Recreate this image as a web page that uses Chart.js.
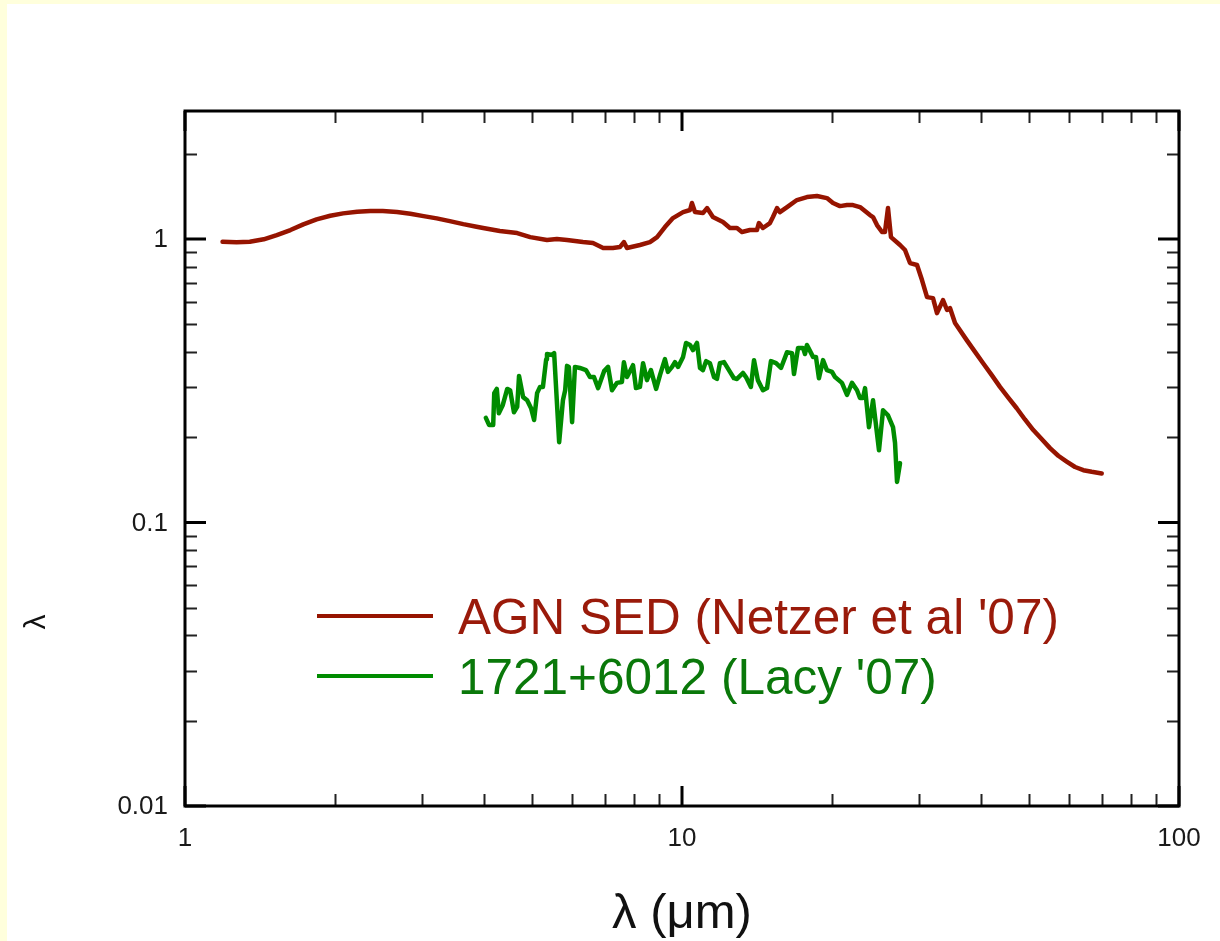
<!DOCTYPE html>
<html>
<head>
<meta charset="utf-8">
<script src="https://cdn.jsdelivr.net/npm/chart.js@4.4.1/dist/chart.umd.min.js"></script>
<style>
  html, body { margin: 0; padding: 0; background: #ffffdc; }
  #sed { display: block; }
</style>
</head>
<body>
<canvas id="sed" width="1220" height="941"></canvas>
<script>
// AGN SED template (Netzer et al '07) - wavelength in micron, lambda*F_lambda normalised
const agnWavelength = [1.19, 1.27, 1.35, 1.44, 1.53, 1.63, 1.73, 1.84, 1.96, 2.08, 2.22, 2.36, 2.50, 2.67, 2.84,
  3.02, 3.21, 3.41, 3.63, 3.86, 3.98, 4.30, 4.66, 4.95,
  5.35, 5.60, 5.87, 6.32, 6.62, 6.94, 7.26, 7.50, 7.64, 7.75, 8.23, 8.62, 8.91, 9.24, 9.59,
  10.05, 10.38, 10.47, 10.62, 11.02, 11.23, 11.54, 12.09, 12.49, 12.90, 13.20, 13.70, 14.15, 14.28, 14.55,
  15.03, 15.24, 15.53, 15.74, 16.27, 17.03, 17.84, 18.69, 19.57, 20.13, 20.79, 21.48, 22.08, 22.81,
  23.89, 24.23, 24.68, 25.26, 25.61, 25.97, 26.33, 27.46, 28.10, 28.76, 29.71, 30.40, 31.12, 31.99,
  32.59, 33.51, 34.14, 34.61, 35.43, 37.40, 38.87, 40.39, 42.00, 43.63, 45.34, 47.15, 48.98, 50.91,
  52.92, 55.01, 57.16, 59.43, 61.78, 64.20, 66.73, 69.91];
const agnFlux = [0.978, 0.974, 0.978, 0.998, 1.033, 1.076, 1.127, 1.174, 1.208, 1.232, 1.248, 1.255, 1.255, 1.245, 1.228,
  1.205, 1.183, 1.157, 1.129, 1.105, 1.094, 1.067, 1.050, 1.016,
  0.992, 1.000, 0.992, 0.976, 0.968, 0.930, 0.930, 0.937, 0.976, 0.930, 0.953, 0.976, 1.016, 1.102, 1.186,
  1.245, 1.266, 1.340, 1.245, 1.235, 1.286, 1.196, 1.148, 1.094, 1.094, 1.059, 1.076, 1.076, 1.139, 1.094,
  1.139, 1.196, 1.286, 1.245, 1.297, 1.373, 1.407, 1.418, 1.395, 1.340, 1.307, 1.318, 1.318, 1.297,
  1.215, 1.196, 1.120, 1.059, 1.059, 1.286, 1.016, 0.953, 0.915, 0.823, 0.810, 0.717, 0.624, 0.619,
  0.548, 0.609, 0.562, 0.571, 0.506, 0.440, 0.400, 0.364, 0.331, 0.301, 0.276, 0.253, 0.231, 0.212,
  0.197, 0.183, 0.172, 0.164, 0.157, 0.153, 0.151, 0.149];

// 1721+6012 spectrum (Lacy '07)
const lacyWavelength = [4.03, 4.09, 4.17, 4.19, 4.24, 4.28, 4.36, 4.45, 4.51, 4.59, 4.66, 4.70, 4.79, 4.88, 4.97,
  5.04, 5.11, 5.18, 5.25, 5.33, 5.35, 5.48, 5.53, 5.66, 5.76, 5.82, 5.87, 5.92, 6.01, 6.09,
  6.23, 6.41, 6.53, 6.65, 6.78, 6.97, 7.10, 7.23, 7.40, 7.57, 7.64, 7.75, 7.97, 8.08, 8.23,
  8.35, 8.50, 8.66, 8.87, 9.03, 9.24, 9.37, 9.55, 9.68, 9.82, 10.05, 10.19, 10.38, 10.52, 10.72,
  10.87, 11.02, 11.18, 11.38, 11.60, 11.76, 11.92, 12.15, 12.49, 12.72, 12.90, 13.26, 13.45, 13.76, 13.96,
  14.21, 14.55, 14.83, 15.10, 15.46, 15.82, 16.27, 16.65, 16.80, 17.12, 17.52, 17.68, 17.84, 18.35, 18.60,
  18.86, 19.22, 19.57, 20.04, 20.32, 20.98, 21.48, 21.98, 22.50, 22.81, 23.13, 23.35, 23.78, 24.23, 24.91,
  25.38, 25.97, 26.58, 26.83, 27.08, 27.46];
const lacyFlux = [0.234, 0.221, 0.221, 0.286, 0.296, 0.243, 0.260, 0.296, 0.293, 0.245, 0.256, 0.329, 0.277, 0.270, 0.253,
  0.230, 0.286, 0.301, 0.301, 0.377, 0.393, 0.390, 0.396, 0.192, 0.270, 0.293, 0.357, 0.354, 0.226, 0.354,
  0.351, 0.345, 0.326, 0.326, 0.298, 0.342, 0.354, 0.293, 0.311, 0.313, 0.368, 0.326, 0.359, 0.298, 0.301,
  0.365, 0.318, 0.345, 0.296, 0.331, 0.377, 0.340, 0.354, 0.368, 0.354, 0.384, 0.430, 0.423, 0.406, 0.430,
  0.351, 0.345, 0.371, 0.365, 0.326, 0.321, 0.365, 0.368, 0.340, 0.323, 0.321, 0.337, 0.326, 0.301, 0.374,
  0.318, 0.293, 0.298, 0.371, 0.365, 0.351, 0.399, 0.396, 0.334, 0.413, 0.413, 0.393, 0.423, 0.384, 0.384,
  0.323, 0.374, 0.345, 0.340, 0.326, 0.311, 0.282, 0.311, 0.293, 0.275, 0.275, 0.298, 0.217, 0.270, 0.180,
  0.249, 0.239, 0.217, 0.191, 0.139, 0.162];

const seriesLabels = ["AGN SED (Netzer et al '07)", "1721+6012 (Lacy '07)"];
const xTickValues = [1, 10, 100];
const xTickLabels = ['1', '10', '100'];
const xMinorTicks = [2, 3, 4, 5, 6, 7, 8, 9, 20, 30, 40, 50, 60, 70, 80, 90];
const yTickValues = [0.01, 0.1, 1];
const yTickLabels = ['0.01', '0.1', '1'];
const yMinorTicks = [0.02, 0.03, 0.04, 0.05, 0.06, 0.07, 0.08, 0.09, 0.2, 0.3, 0.4, 0.5, 0.6, 0.7, 0.8, 0.9, 2];
const xTitle = 'λ (μm)';

const FONT = "'Liberation Sans', Arial, sans-serif";
const RED = '#961400';
const GREEN = '#008c00';

// slide background, frame, inward ticks, labels and the in-plot legend
const sedDecor = {
  id: 'sedDecor',
  beforeDraw(chart) {
    const { ctx, width, height } = chart;
    ctx.save();
    ctx.fillStyle = '#ffffdc';
    ctx.fillRect(0, 0, width, height);
    ctx.fillStyle = '#ffffff';
    ctx.fillRect(7, 4, width - 7, height - 4);
    ctx.restore();
  },
  afterDatasetsDraw(chart) {
    const { ctx, chartArea: a, scales: { x, y } } = chart;
    ctx.save();

    // minor ticks
    ctx.strokeStyle = '#222';
    ctx.lineWidth = 2;
    ctx.beginPath();
    xMinorTicks.forEach(v => {
      const px = Math.round(x.getPixelForValue(v)) + 0.5;
      ctx.moveTo(px, a.bottom); ctx.lineTo(px, a.bottom - 12);
      ctx.moveTo(px, a.top); ctx.lineTo(px, a.top + 12);
    });
    yMinorTicks.forEach(v => {
      const py = Math.round(y.getPixelForValue(v)) + 0.5;
      ctx.moveTo(a.left, py); ctx.lineTo(a.left + 12, py);
      ctx.moveTo(a.right, py); ctx.lineTo(a.right - 12, py);
    });
    ctx.stroke();

    // major ticks
    ctx.strokeStyle = '#000';
    ctx.lineWidth = 3;
    ctx.beginPath();
    xTickValues.forEach(v => {
      const px = x.getPixelForValue(v);
      ctx.moveTo(px, a.bottom); ctx.lineTo(px, a.bottom - 20);
      ctx.moveTo(px, a.top); ctx.lineTo(px, a.top + 20);
    });
    yTickValues.forEach(v => {
      const py = y.getPixelForValue(v);
      ctx.moveTo(a.left, py); ctx.lineTo(a.left + 21, py);
      ctx.moveTo(a.right, py); ctx.lineTo(a.right - 21, py);
    });
    ctx.stroke();

    // frame
    ctx.lineWidth = 3;
    ctx.strokeRect(a.left, a.top, a.right - a.left, a.bottom - a.top);

    // tick labels
    ctx.fillStyle = '#1a1a1a';
    ctx.font = '26px ' + FONT;
    ctx.textAlign = 'center';
    ctx.textBaseline = 'alphabetic';
    xTickValues.forEach((v, i) => ctx.fillText(xTickLabels[i], x.getPixelForValue(v), 846));
    ctx.textAlign = 'right';
    ctx.textBaseline = 'middle';
    yTickValues.forEach((v, i) => ctx.fillText(yTickLabels[i], 168, y.getPixelForValue(v) + 1));

    // axis title
    ctx.fillStyle = '#111';
    ctx.font = '49px ' + FONT;
    ctx.textAlign = 'center';
    ctx.textBaseline = 'alphabetic';
    ctx.fillText(xTitle, (a.left + a.right) / 2, 928);

    // y title, mostly clipped off the slide edge
    ctx.save();
    ctx.translate(45, 622);
    ctx.rotate(-Math.PI / 2);
    ctx.font = '30px ' + FONT;
    ctx.fillText('λ', 0, 0);
    ctx.restore();

    // legend
    const legendRows = [
      { y: 616, base: 634, line: RED, text: '#9a1a0a' },
      { y: 676, base: 694, line: GREEN, text: '#0a780a' }
    ];
    ctx.font = '49.5px ' + FONT;
    ctx.textAlign = 'left';
    legendRows.forEach((r, i) => {
      ctx.strokeStyle = r.line;
      ctx.lineWidth = 4;
      ctx.beginPath();
      ctx.moveTo(317, r.y); ctx.lineTo(433, r.y);
      ctx.stroke();
      ctx.fillStyle = r.text;
      ctx.fillText(seriesLabels[i], 458, r.base);
    });
    ctx.restore();
  }
};

const toPoints = (xs, ys) => xs.map((v, i) => ({ x: v, y: ys[i] }));

new Chart(document.getElementById('sed'), {
  type: 'scatter',
  data: {
    datasets: [
      {
        label: seriesLabels[0],
        data: toPoints(agnWavelength, agnFlux),
        showLine: true,
        borderColor: RED,
        borderWidth: 4.5,
        borderJoinStyle: 'round',
        borderCapStyle: 'round',
        pointRadius: 0,
        tension: 0
      },
      {
        label: seriesLabels[1],
        data: toPoints(lacyWavelength, lacyFlux),
        showLine: true,
        borderColor: GREEN,
        borderWidth: 4.5,
        borderJoinStyle: 'round',
        borderCapStyle: 'round',
        pointRadius: 0,
        tension: 0
      }
    ]
  },
  options: {
    responsive: false,
    animation: false,
    devicePixelRatio: 1,
    layout: { padding: { top: 111, right: 41, left: 0, bottom: 0 } },
    plugins: { legend: { display: false }, tooltip: { enabled: false } },
    scales: {
      x: {
        type: 'logarithmic',
        min: 1,
        max: 100,
        ticks: { display: false },
        grid: { display: false, drawTicks: false },
        border: { display: false },
        afterFit(s) { s.height = 135; }
      },
      y: {
        type: 'logarithmic',
        min: 0.01,
        max: 2.83,
        ticks: { display: false },
        grid: { display: false, drawTicks: false },
        border: { display: false },
        afterFit(s) { s.width = 185; }
      }
    }
  },
  plugins: [sedDecor]
});
</script>
</body>
</html>
